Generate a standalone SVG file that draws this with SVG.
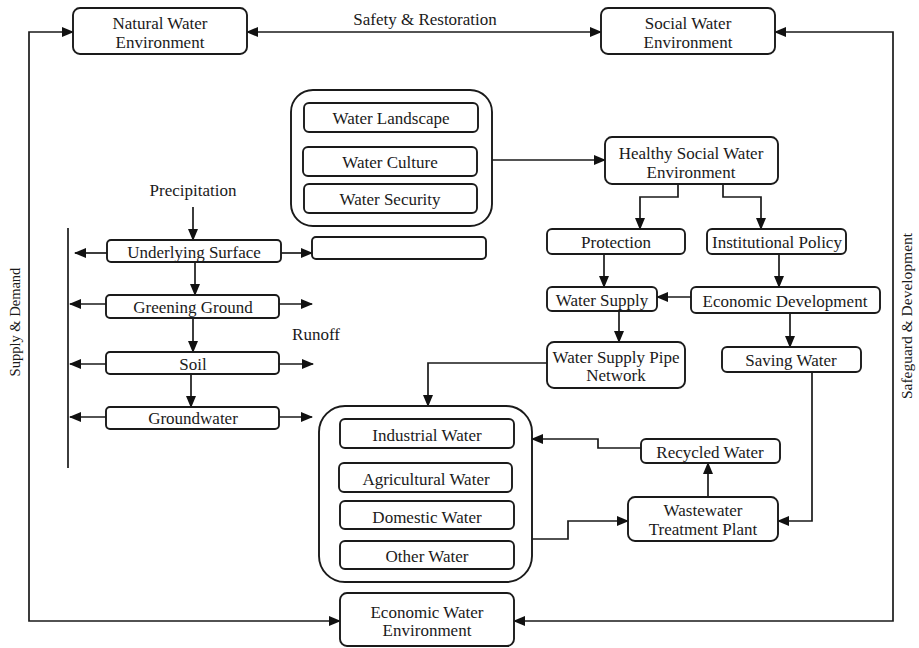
<svg xmlns="http://www.w3.org/2000/svg" width="919" height="648" viewBox="0 0 919 648">
<defs>
<marker id="ah" markerUnits="userSpaceOnUse" markerWidth="12" markerHeight="10" refX="11" refY="5" orient="auto">
<path d="M0,0 L12,5 L0,10 z" fill="#111"/>
</marker>
<style>
.b{fill:#fff;stroke:#1a1a1a;stroke-width:1.9}
.t{font-family:"Liberation Serif","Times New Roman",serif;font-size:17px;fill:#1a1a1a;text-anchor:middle}
.r{font-family:"Liberation Serif","Times New Roman",serif;fill:#1a1a1a;text-anchor:middle}
.c{fill:none;stroke:#1a1a1a;stroke-width:1.7}
.a{marker-end:url(#ah)}
</style>
</defs>
<rect width="919" height="648" fill="#fff"/>

<g id="connectors">
<path class="c a" d="M29,330 V32 H73"/>
<path class="c a" d="M29,330 V621 H340"/>
<path class="c a" d="M893,330 V32 H775"/>
<path class="c a" d="M893,330 V621 H514"/>
<path class="c a" d="M424,32 H247"/>
<path class="c a" d="M424,32 H601"/>
<path class="c a" d="M492,160 H605"/>
<path class="c a" d="M678,184 V197 H640 V229"/>
<path class="c a" d="M723,184 V197 H761 V229"/>
<path class="c a" d="M604,254 V287"/>
<path class="c a" d="M779,254 V287"/>
<path class="c a" d="M691,297 H657"/>
<path class="c a" d="M619,311 V342"/>
<path class="c a" d="M790,313 V347"/>
<path class="c a" d="M547,363 H428 V406"/>
<path class="c a" d="M812,372 V521 H778"/>
<path class="c a" d="M532,539 H568 V521 H628"/>
<path class="c a" d="M708,497 V463"/>
<path class="c a" d="M641,448 H598 V439 H532"/>
<path class="c a" d="M193,207 V240"/>
<path class="c a" d="M195,262 V295"/>
<path class="c a" d="M193,318 V352"/>
<path class="c a" d="M191,374 V407"/>
<path class="c a" d="M107,253 H75"/>
<path class="c a" d="M106,304 H70"/>
<path class="c a" d="M106,364 H70"/>
<path class="c a" d="M106,417 H70"/>
<path class="c a" d="M281,253 H312"/>
<path class="c a" d="M279,304 H312"/>
<path class="c a" d="M279,364 H313"/>
<path class="c a" d="M279,417 H312"/>
<path class="c" d="M68,228 V468"/>
</g>

<g id="labels">
<text class="t" x="425" y="25">Safety &amp; Restoration</text>
<text class="t" x="193" y="196">Precipitation</text>
<text class="t" x="316" y="340">Runoff</text>
<text class="r" font-size="14.5" transform="translate(20,322) rotate(-90)">Supply &amp; Demand</text>
<text class="r" font-size="15.5" transform="translate(912,316) rotate(-90)">Safeguard &amp; Development</text>
</g>

<g id="natural"><rect class="b" x="73" y="8" width="174" height="46" rx="7"/><text class="t" x="160" y="29">Natural Water</text><text class="t" x="160" y="48">Environment</text></g>
<g id="social"><rect class="b" x="601" y="8" width="174" height="46" rx="7"/><text class="t" x="688" y="29">Social Water</text><text class="t" x="688" y="48">Environment</text></g>

<g id="culture-group"><rect class="b" x="291" y="90" width="201" height="136" rx="22"/></g>
<g id="landscape"><rect class="b" x="304" y="103" width="174" height="29" rx="5"/><text class="t" x="391" y="124">Water Landscape</text></g>
<g id="culture"><rect class="b" x="303" y="147" width="174" height="29" rx="5"/><text class="t" x="390" y="168">Water Culture</text></g>
<g id="security"><rect class="b" x="304" y="184" width="173" height="29" rx="5"/><text class="t" x="390" y="205">Water Security</text></g>

<g id="healthy"><rect class="b" x="605" y="137" width="173" height="47" rx="7"/><text class="t" x="691" y="159">Healthy Social Water</text><text class="t" x="691" y="178">Environment</text></g>
<g id="protection"><rect class="b" x="547" y="229" width="138" height="25" rx="5"/><text class="t" x="616" y="248">Protection</text></g>
<g id="policy"><rect class="b" x="707" y="229" width="139" height="25" rx="5"/><text class="t" x="777" y="248">Institutional Policy</text></g>
<g id="supply"><rect class="b" x="547" y="287" width="110" height="24" rx="5"/><text class="t" x="602" y="306">Water Supply</text></g>
<g id="econdev"><rect class="b" x="691" y="287" width="189" height="26" rx="5"/><text class="t" x="785" y="307">Economic Development</text></g>
<g id="pipe"><rect class="b" x="547" y="342" width="138" height="46" rx="7"/><text class="t" x="616" y="363">Water Supply Pipe</text><text class="t" x="616" y="381">Network</text></g>
<g id="saving"><rect class="b" x="722" y="347" width="139" height="25" rx="5"/><text class="t" x="791" y="366">Saving Water</text></g>

<g id="underlying"><rect class="b" x="107" y="240" width="174" height="22" rx="4"/><text class="t" x="194" y="258">Underlying Surface</text></g>
<g id="blank"><rect class="b" x="312" y="237" width="174" height="22" rx="4"/></g>
<g id="greening"><rect class="b" x="106" y="295" width="173" height="23" rx="4"/><text class="t" x="193" y="313">Greening Ground</text></g>
<g id="soil"><rect class="b" x="106" y="352" width="173" height="22" rx="4"/><text class="t" x="193" y="370">Soil</text></g>
<g id="groundwater"><rect class="b" x="106" y="407" width="173" height="22" rx="4"/><text class="t" x="193" y="424">Groundwater</text></g>

<g id="use-group"><rect class="b" x="319" y="406" width="213" height="176" rx="26"/></g>
<g id="industrial"><rect class="b" x="340" y="419" width="174" height="29" rx="5"/><text class="t" x="427" y="441">Industrial Water</text></g>
<g id="agricultural"><rect class="b" x="339" y="463" width="173" height="29" rx="5"/><text class="t" x="426" y="485">Agricultural Water</text></g>
<g id="domestic"><rect class="b" x="340" y="501" width="174" height="28" rx="5"/><text class="t" x="427" y="523">Domestic Water</text></g>
<g id="other"><rect class="b" x="340" y="541" width="174" height="28" rx="5"/><text class="t" x="427" y="562">Other Water</text></g>

<g id="recycled"><rect class="b" x="641" y="439" width="139" height="24" rx="5"/><text class="t" x="710" y="458">Recycled Water</text></g>
<g id="wtp"><rect class="b" x="628" y="497" width="150" height="44" rx="7"/><text class="t" x="703" y="516" font-size="16.5">Wastewater</text><text class="t" x="703" y="535" font-size="16.5">Treatment Plant</text></g>
<g id="economic"><rect class="b" x="340" y="593" width="174" height="53" rx="7"/><text class="t" x="427" y="618">Economic Water</text><text class="t" x="427" y="636">Environment</text></g>
</svg>
